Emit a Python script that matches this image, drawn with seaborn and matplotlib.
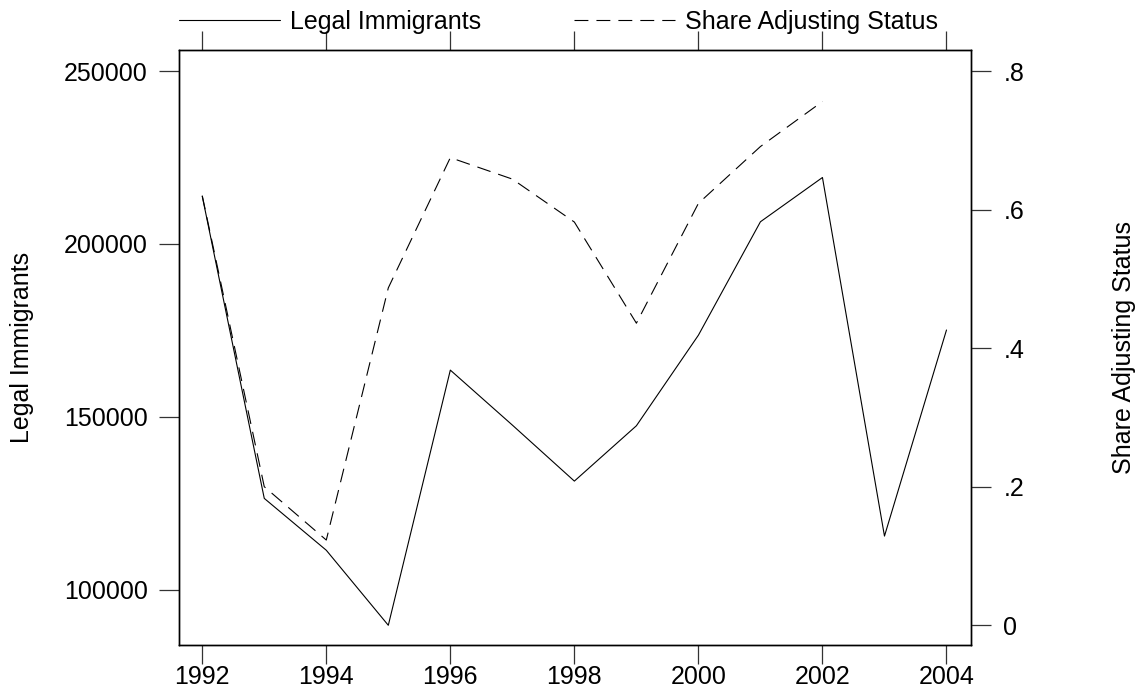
import matplotlib
matplotlib.use("Agg")
import matplotlib.pyplot as plt
import matplotlib.ticker as mtick
import seaborn as sns
import pandas as pd

# values
years = list(range(1992, 2005))
legal_immigrants = [213800, 126400, 111400, 89700, 163500, 147600, 131400,
                    147400, 173600, 206400, 219200, 115500, 175100]
share_years = list(range(1992, 2003))
share_adjusting = [0.62, 0.20, 0.123, 0.487, 0.675, 0.644, 0.582,
                   0.436, 0.609, 0.691, 0.756]
x_ticks = list(range(1992, 2005, 2))
left_ticks = [100000, 150000, 200000, 250000]
right_ticks = [0, 0.2, 0.4, 0.6, 0.8]
right_tick_labels = ["0", ".2", ".4", ".6", ".8"]

sns.set_theme(style="ticks")
plt.rcParams["font.family"] = ["Liberation Sans", "DejaVu Sans"]
plt.rcParams["lines.scale_dashes"] = False
plt.rcParams["axes.edgecolor"] = "black"
plt.rcParams["axes.linewidth"] = 1.0
plt.rcParams["text.color"] = "black"
plt.rcParams["axes.labelcolor"] = "black"

df_imm = pd.DataFrame({"year": years, "immigrants": legal_immigrants})
df_share = pd.DataFrame({"year": share_years, "share": share_adjusting})

W, H = 1148, 689
fig = plt.figure(figsize=(W / 100, H / 100), dpi=100)
left_px, right_px, top_px, bottom_px = 179.3, 971.3, 50.3, 645.3
ax = fig.add_axes([left_px / W, 1 - bottom_px / H,
                   (right_px - left_px) / W, (bottom_px - top_px) / H])
ax2 = ax.twinx()

sns.lineplot(data=df_imm, x="year", y="immigrants", ax=ax, color="black",
             lw=0.8, legend=False)
sns.lineplot(data=df_share, x="year", y="share", ax=ax2, color="black",
             lw=0.8, legend=False)
ax2.lines[0].set_dashes([10, 5.8])

ax.set_xlim(1991.63, 2004.40)
ax.set_ylim(83912, 255990)
ax2.set_ylim(-0.0289, 0.8299)

ax.set_xticks(x_ticks)
ax.set_yticks(left_ticks)
ax.yaxis.set_major_formatter(mtick.StrMethodFormatter("{x:.0f}"))
ax2.set_yticks(right_ticks, right_tick_labels)

ax.tick_params(axis="x", top=True, labeltop=False, direction="out",
               length=14, width=0.9, pad=0, labelsize=18, color="#333333",
               labelcolor="black")
ax.tick_params(axis="y", direction="out", length=14.5, width=0.9, pad=8.2,
               labelsize=18, color="#333333", labelcolor="black")
ax2.tick_params(axis="y", direction="out", length=14.5, width=0.9, pad=8.6,
                labelsize=18, color="#333333", labelcolor="black")

ax.set_xlabel("")
ax.set_ylabel("Legal Immigrants", fontsize=18, va="center")
ax.yaxis.set_label_coords((22 - left_px) / (right_px - left_px), 0.5)
ax2.set_ylabel("Share Adjusting Status", fontsize=18, va="center", rotation=90)
ax2.yaxis.set_label_coords((1124 - left_px) / (right_px - left_px), 0.5)

handles = [ax.lines[0], ax2.lines[0]]
labels = ["Legal Immigrants", "Share Adjusting Status"]
fig.legend(handles, labels, loc="center left",
           bbox_to_anchor=(left_px / W, 1 - 21.5 / H), ncol=2, frameon=False,
           handlelength=4.04, handletextpad=0.4, columnspacing=3.72,
           borderpad=0, borderaxespad=0, fontsize=18, labelcolor="black")

fig.savefig("out.png", dpi=100)
